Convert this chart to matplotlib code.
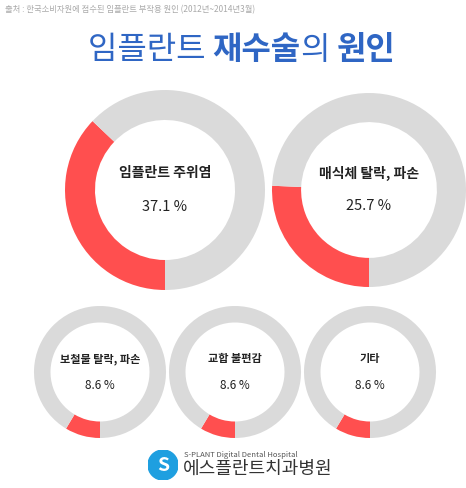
import matplotlib
matplotlib.use("Agg")
import matplotlib.pyplot as plt

plt.rcParams['font.family'] = ['Noto Sans CJK KR', 'DejaVu Sans']

labels = ["임플란트 주위염", "매식체 탈락, 파손", "보철물 탈락, 파손", "교합 불편감", "기타"]
values = [37.1, 25.7, 8.6, 8.6, 8.6]

RED = "#ff4f4f"
GRAY = "#dadada"
W, H = 466, 488
fig = plt.figure(figsize=(W/100, H/100), dpi=100)
fig.patch.set_facecolor("white")

layout = [(165, 190, 100, 0.30, 10, 10.5),
          (369, 190, 97, 0.30, 10, 10.5),
          (100, 372, 66, 0.25, 8, 8.5),
          (235, 372, 66, 0.25, 8, 8.5),
          (370, 372, 66, 0.25, 8, 8.5)]

for (lab, val, (cx, cy, r, w, fs1, fs2)) in zip(labels, values, layout):
    ax = fig.add_axes([(cx-r)/W, 1-(cy+r)/H, 2*r/W, 2*r/H])
    ax.pie([val, 100-val], colors=[RED, GRAY], startangle=270, counterclock=False,
           wedgeprops=dict(width=w, linewidth=0))
    ax.set_xlim(-1, 1); ax.set_ylim(-1, 1)
    ax.set_aspect('equal'); ax.axis('off')
    dy = 0.17 if r > 80 else 0.2
    ax.text(0, dy, lab, ha='center', va='center', fontsize=fs1, fontweight='bold', color='#222222')
    ax.text(0, -dy, f"{val} %", ha='center', va='center', fontsize=fs2, color='#222222')

fig.text(5/W, 1-10/H, "출처 : 한국소비자원에 접수된 임플란트 부작용 원인 (2012년~2014년3월)",
         fontsize=6, color='#aaaaaa', va='center', ha='left')

blue = "#2f66c4"
fs = 23
t1 = fig.text(88/W, 1-50/H, "임플란트 ", fontsize=fs, color=blue, va='center', ha='left')
fig.canvas.draw()
r_ = fig.canvas.get_renderer()
def nxt(prev, s, bold):
    bb = prev.get_window_extent(r_)
    return fig.text(bb.x1/W, 1-50/H, s, fontsize=fs, color=blue, va='center', ha='left',
                    fontweight='bold' if bold else 'normal')
t2 = nxt(t1, "재수술", True)
t3 = nxt(t2, "의 ", False)
t4 = nxt(t3, "원인", True)

lax = fig.add_axes([148/W, 1-480/H, 30/W, 30/H])
lax.add_patch(plt.Circle((0, 0), 1, color="#1e9fe0"))
lax.text(0, -0.05, "S", color='white', fontsize=14, fontweight='bold', ha='center', va='center')
lax.set_xlim(-1, 1); lax.set_ylim(-1, 1); lax.set_aspect('equal'); lax.axis('off')
fig.text(184/W, 1-455/H, "S-PLANT Digital Dental Hospital", fontsize=5.5, color='#555555', va='center')
fig.text(183/W, 1-469/H, "에스플란트치과병원", fontsize=13, color='#333333', va='center')

fig.savefig("out.png", dpi=100, facecolor='white')
